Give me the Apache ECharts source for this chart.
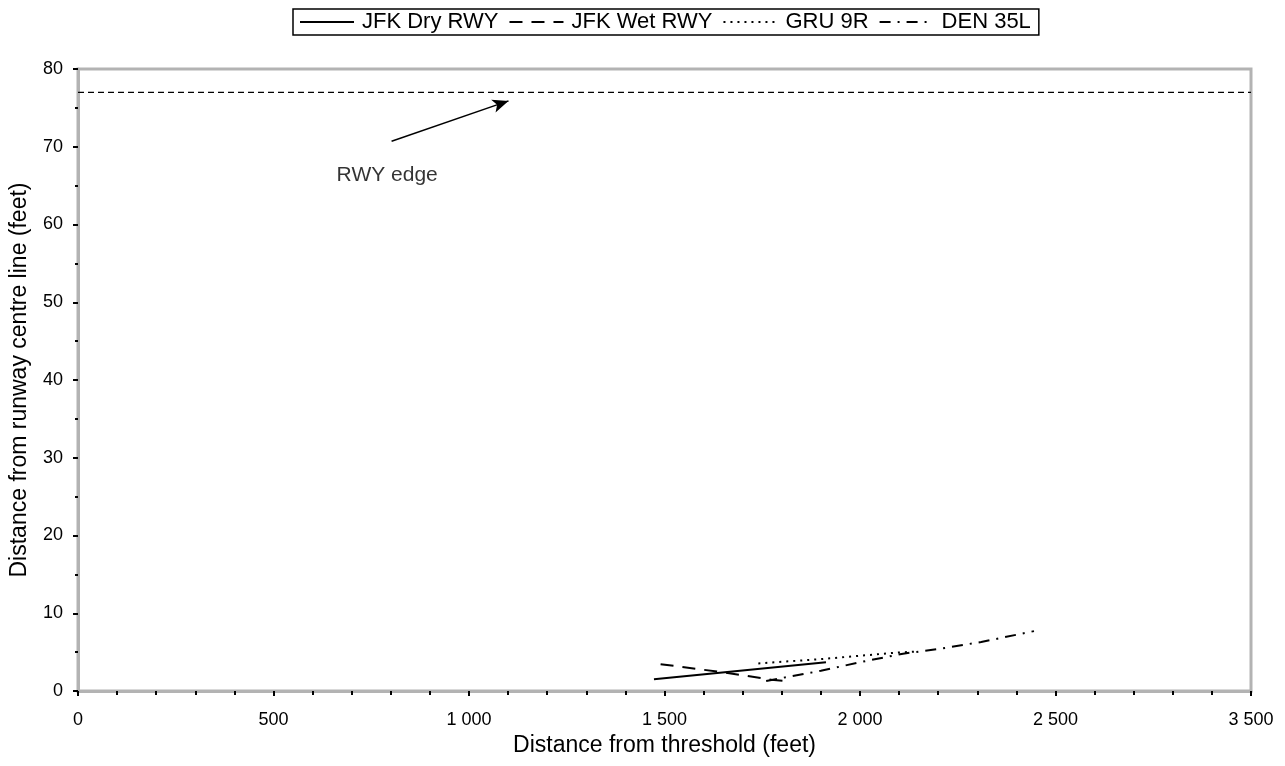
<!DOCTYPE html>
<html>
<head>
<meta charset="utf-8">
<script src="https://cdn.jsdelivr.net/npm/echarts@6/dist/echarts.min.js"></script>
<style>
  html, body { margin: 0; padding: 0; background: #fff; }
  #chart { width: 1285px; height: 766px; }
</style>
</head>
<body>
<div id="chart"></div>
<script>
// Lateral deviation tracks: [distance from threshold (ft), distance from centre line (ft)]
const jfkDry = [[1473, 1.5], [1913, 3.7]];
const jfkWet = [[1490, 3.45], [1650, 2.4], [1780, 1.4], [1822, 1.25]];
const gru9R = [[1740, 3.55], [1900, 4.1], [2085, 4.9], [2150, 5.1]];
const den35L = [[1760, 1.3], [1900, 2.6], [2000, 3.7], [2110, 4.8], [2200, 5.4], [2310, 6.3], [2445, 7.7]];

// Runway edge reference line
const rwyEdge = [[0, 77], [3000, 77]];

// Annotation: arrow from label to runway edge
const arrowFrom = [802, 70.7];
const arrowTo = [1101, 75.9];
const edgeLabelPos = [[792, 66.3]];
const edgeLabelText = 'RWY edge';

// Axis tick labels (x labels at 0, 500, ... 3000)
const xTickLabels = ['0', '500', '1 000', '1 500', '2 000', '2 500', '3 500'];
const yTickLabels = ['0', '10', '20', '30', '40', '50', '60', '70', '80'];

const seriesNames = ['JFK Dry RWY', 'JFK Wet RWY', 'GRU 9R', 'DEN 35L'];

const FONT = 'Liberation Sans, Arial, Helvetica, sans-serif';

function track(name, data, dash) {
  return {
    name: name,
    type: 'line',
    data: data,
    symbol: 'none',
    smooth: false,
    lineStyle: { color: '#000', width: 2, type: dash },
    itemStyle: { color: '#000' },
    z: 5
  };
}

const chart = echarts.init(document.getElementById('chart'), null, { renderer: 'canvas' });

chart.setOption({
  animation: false,
  backgroundColor: '#fff',
  textStyle: { fontFamily: FONT },
  legend: {
    data: seriesNames,
    top: 9,
    left: 293,
    orient: 'horizontal',
    borderColor: '#000',
    borderWidth: 1.5,
    borderRadius: 0,
    padding: [2, 8, 2, 6],
    itemWidth: 54,
    itemHeight: 12,
    itemGap: 10,
    itemStyle: { opacity: 0 },
    lineStyle: { width: 2 },
    textStyle: { fontFamily: FONT, fontSize: 22, color: '#000', padding: [0, 0, 0, 3] },
    selectedMode: false
  },
  grid: {
    left: 77,
    right: 34,
    top: 69,
    bottom: 75,
    show: true,
    borderColor: '#b3b3b3',
    borderWidth: 3,
    backgroundColor: 'transparent'
  },
  xAxis: {
    type: 'value',
    min: 0,
    max: 3000,
    interval: 500,
    name: 'Distance from threshold (feet)',
    nameLocation: 'middle',
    nameGap: 42,
    nameTextStyle: { fontFamily: FONT, fontSize: 23, color: '#000' },
    axisLine: { show: true, onZero: false, lineStyle: { color: '#b3b3b3', width: 3 } },
    axisTick: { show: true, length: 5, lineStyle: { color: '#000', width: 2 } },
    minorTick: { show: true, splitNumber: 5, length: 4, lineStyle: { color: '#000', width: 2 } },
    splitLine: { show: false },
    axisLabel: {
      fontFamily: FONT, fontSize: 18, color: '#000', margin: 20,
      formatter: function (v) { return xTickLabels[Math.round(v / 500)]; }
    }
  },
  yAxis: {
    type: 'value',
    min: 0,
    max: 80,
    interval: 10,
    name: 'Distance from runway centre line (feet)',
    nameLocation: 'middle',
    nameGap: 47,
    nameTextStyle: { fontFamily: FONT, fontSize: 23, color: '#000' },
    axisLine: { show: true, onZero: false, lineStyle: { color: '#b3b3b3', width: 3 } },
    axisTick: { show: true, length: 5, lineStyle: { color: '#000', width: 2 } },
    minorTick: { show: true, splitNumber: 2, length: 3, lineStyle: { color: '#000', width: 2 } },
    splitLine: { show: false },
    axisLabel: {
      fontFamily: FONT, fontSize: 18, color: '#000', margin: 15,
      formatter: function (v) { return yTickLabels[Math.round(v / 10)]; }
    }
  },
  series: [
    track(seriesNames[0], jfkDry, 'solid'),
    track(seriesNames[1], jfkWet, [13, 9]),
    track(seriesNames[2], gru9R, [2, 5]),
    track(seriesNames[3], den35L, [11, 7, 2, 7]),
    {
      name: 'edge',
      type: 'line',
      data: rwyEdge,
      symbol: 'none',
      lineStyle: { color: '#000', width: 1.2, type: [6, 4] },
      silent: true,
      z: 4,
      markLine: {
        silent: true,
        symbol: ['none', 'arrow'],
        symbolSize: [10, 16],
        label: { show: false },
        lineStyle: { color: '#000', width: 1.5, type: 'solid' },
        data: [[{ coord: arrowFrom }, { coord: arrowTo }]]
      }
    },
    {
      name: 'edgeLabel',
      type: 'scatter',
      data: edgeLabelPos,
      symbolSize: 1,
      itemStyle: { color: 'transparent' },
      silent: true,
      label: {
        show: true,
        position: [0, 0],
        align: 'center',
        verticalAlign: 'middle',
        formatter: edgeLabelText,
        fontFamily: FONT,
        fontSize: 21,
        color: '#000',
        textBorderWidth: 0
      }
    }
  ]
});
</script>
</body>
</html>
